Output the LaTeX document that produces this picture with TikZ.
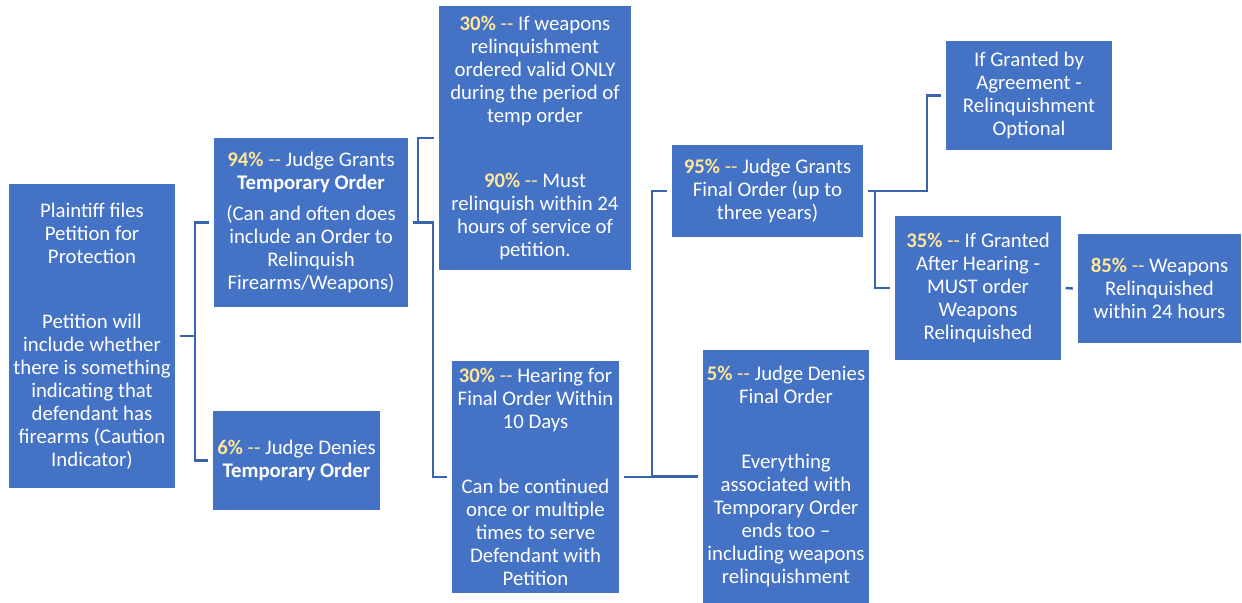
\documentclass[tikz,border=0pt]{standalone}
\usepackage{fontspec}
\setmainfont{Carlito}
\usepackage{xcolor}
\usepackage{tikz}
\definecolor{boxcolor}{HTML}{4472C4}
\definecolor{linkcolor}{HTML}{3A63AD}
\definecolor{pctcolor}{HTML}{FFE699}
\newcommand{\pct}[1]{\textcolor{pctcolor}{\textbf{#1\%} -{}-}}
\tikzset{stage/.style 2 args={fill=boxcolor,text=white,align=center,inner sep=0pt,minimum width=#1*0.75pt,minimum height=#2*0.75pt,font=\fontsize{15.6}{17.25}\selectfont},link/.style={draw=linkcolor,line width=1.8pt}}
\begin{document}
\begin{tikzpicture}[x=0.75pt,y=-0.75pt]
 \useasboundingbox (0,0) rectangle (1242,603);
 \node[stage={166}{304}] (petition) at (92,336) {Plaintiff files\\Petition for\\Protection\\[31.5pt]Petition will\\include whether\\there is something\\indicating that\\defendant has\\firearms (Caution\\Indicator)};
 \node[stage={194}{169}] (tempgrant) at (311,222.5) {\pct{94} Judge Grants\\\textbf{Temporary Order}\\[6pt](Can and often does\\include an Order to\\Relinquish\\Firearms/Weapons)};
 \node[stage={167}{99}] (tempdeny) at (296.5,460.5) {\pct{6} Judge Denies\\\textbf{Temporary Order}};
 \node[stage={192}{264}] (tempweapons) at (535,138) {\pct{30} If weapons\\relinquishment\\ordered valid ONLY\\during the period of\\temp order\\[31.5pt]\pct{90} Must\\relinquish within 24\\hours of service of\\petition.};
 \node[stage={167}{232}] (hearing) at (535.5,477) {\pct{30} Hearing for\\Final Order Within\\10 Days\\[32pt]Can be continued\\once or multiple\\times to serve\\Defendant with\\Petition};
 \node[stage={191}{92}] (finalgrant) at (767.5,191) {\pct{95} Judge Grants\\Final Order (up to\\three years)};
 \node[stage={166}{253}] (finaldeny) at (786,476.5) {\pct{5} Judge Denies\\Final Order\\[32pt]Everything\\associated with\\Temporary Order\\ends too --\\including weapons\\relinquishment};
 \node[stage={166}{109}] (agreement) at (1029,95.5) {If Granted by\\Agreement -\\Relinquishment\\Optional};
 \node[stage={166}{144}] (afterhearing) at (978,288) {\pct{35} If Granted\\After Hearing -\\MUST order\\Weapons\\Relinquished};
 \node[stage={163}{109}] (surrender) at (1159.5,288.5) {\pct{85} Weapons\\Relinquished\\within 24 hours};
 % elbow connectors: parent / child / x of the vertical
 \foreach \a/\b/\m in {petition/tempgrant/195,petition/tempdeny/195,tempgrant/tempweapons/418,tempgrant/hearing/433,hearing/finalgrant/652,hearing/finaldeny/652,finalgrant/agreement/927,finalgrant/afterhearing/875}
   \draw[link] ([xshift=3.5pt]\a.east) -- (\a.east -| \m,0) |- ([xshift=-3.2pt]\b.west);
 \draw[link] ([xshift=3.2pt]afterhearing.east) -- ([xshift=-3.6pt]surrender.west);
\end{tikzpicture}
\end{document}
